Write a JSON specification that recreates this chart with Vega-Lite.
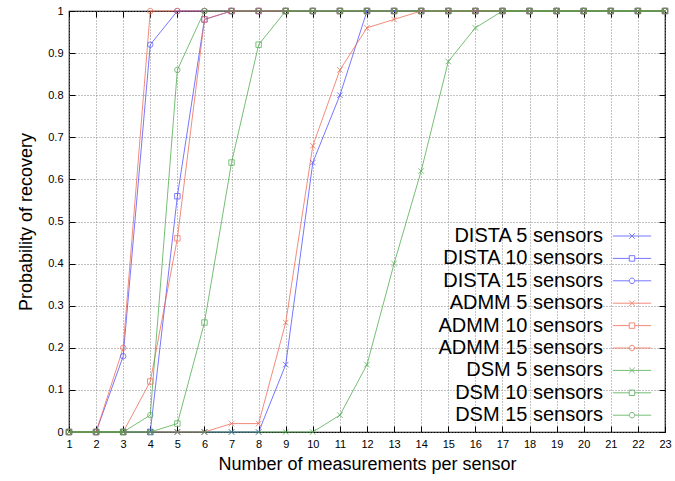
{
  "$schema": "https://vega.github.io/schema/vega-lite/v6.json",
  "width": 596,
  "height": 421,
  "autosize": {"type": "none"},
  "padding": {"left": 69, "top": 11, "right": 10, "bottom": 49},
  "background": "white",
  "config": {
    "font": "Liberation Sans",
    "view": {"stroke": "black", "strokeWidth": 1.2},
    "axis": {"domain": false, "tickColor": "black", "labelColor": "black", "titleColor": "black", "titleFontWeight": "normal", "labelFont": "Liberation Sans", "titleFont": "Liberation Sans"}
  },
  "data": {
    "values": [
      {"x": 1, "DISTA 5 sensors": 0, "DISTA 10 sensors": 0, "DISTA 15 sensors": 0, "ADMM 5 sensors": 0, "ADMM 10 sensors": 0, "ADMM 15 sensors": 0, "DSM 5 sensors": 0, "DSM 10 sensors": 0, "DSM 15 sensors": 0},
      {"x": 2, "DISTA 5 sensors": 0, "DISTA 10 sensors": 0, "DISTA 15 sensors": 0, "ADMM 5 sensors": 0, "ADMM 10 sensors": 0, "ADMM 15 sensors": 0, "DSM 5 sensors": 0, "DSM 10 sensors": 0, "DSM 15 sensors": 0},
      {"x": 3, "DISTA 5 sensors": 0, "DISTA 10 sensors": 0, "DISTA 15 sensors": 0.18, "ADMM 5 sensors": 0, "ADMM 10 sensors": 0, "ADMM 15 sensors": 0.2, "DSM 5 sensors": 0, "DSM 10 sensors": 0, "DSM 15 sensors": 0},
      {"x": 4, "DISTA 5 sensors": 0, "DISTA 10 sensors": 0, "DISTA 15 sensors": 0.92, "ADMM 5 sensors": 0, "ADMM 10 sensors": 0.12, "ADMM 15 sensors": 1, "DSM 5 sensors": 0, "DSM 10 sensors": 0, "DSM 15 sensors": 0.04},
      {"x": 5, "DISTA 5 sensors": 0, "DISTA 10 sensors": 0.56, "DISTA 15 sensors": 1, "ADMM 5 sensors": 0, "ADMM 10 sensors": 0.46, "ADMM 15 sensors": 1, "DSM 5 sensors": 0, "DSM 10 sensors": 0.02, "DSM 15 sensors": 0.86},
      {"x": 6, "DISTA 5 sensors": 0, "DISTA 10 sensors": 0.98, "DISTA 15 sensors": 1, "ADMM 5 sensors": 0, "ADMM 10 sensors": 0.98, "ADMM 15 sensors": 1, "DSM 5 sensors": 0, "DSM 10 sensors": 0.26, "DSM 15 sensors": 1},
      {"x": 7, "DISTA 5 sensors": 0, "DISTA 10 sensors": 1, "DISTA 15 sensors": 1, "ADMM 5 sensors": 0.02, "ADMM 10 sensors": 1, "ADMM 15 sensors": 1, "DSM 5 sensors": 0, "DSM 10 sensors": 0.64, "DSM 15 sensors": 1},
      {"x": 8, "DISTA 5 sensors": 0, "DISTA 10 sensors": 1, "DISTA 15 sensors": 1, "ADMM 5 sensors": 0.02, "ADMM 10 sensors": 1, "ADMM 15 sensors": 1, "DSM 5 sensors": 0, "DSM 10 sensors": 0.92, "DSM 15 sensors": 1},
      {"x": 9, "DISTA 5 sensors": 0.16, "DISTA 10 sensors": 1, "DISTA 15 sensors": 1, "ADMM 5 sensors": 0.26, "ADMM 10 sensors": 1, "ADMM 15 sensors": 1, "DSM 5 sensors": 0, "DSM 10 sensors": 1, "DSM 15 sensors": 1},
      {"x": 10, "DISTA 5 sensors": 0.64, "DISTA 10 sensors": 1, "DISTA 15 sensors": 1, "ADMM 5 sensors": 0.68, "ADMM 10 sensors": 1, "ADMM 15 sensors": 1, "DSM 5 sensors": 0, "DSM 10 sensors": 1, "DSM 15 sensors": 1},
      {"x": 11, "DISTA 5 sensors": 0.8, "DISTA 10 sensors": 1, "DISTA 15 sensors": 1, "ADMM 5 sensors": 0.86, "ADMM 10 sensors": 1, "ADMM 15 sensors": 1, "DSM 5 sensors": 0.04, "DSM 10 sensors": 1, "DSM 15 sensors": 1},
      {"x": 12, "DISTA 5 sensors": 1, "DISTA 10 sensors": 1, "DISTA 15 sensors": 1, "ADMM 5 sensors": 0.96, "ADMM 10 sensors": 1, "ADMM 15 sensors": 1, "DSM 5 sensors": 0.16, "DSM 10 sensors": 1, "DSM 15 sensors": 1},
      {"x": 13, "DISTA 5 sensors": 1, "DISTA 10 sensors": 1, "DISTA 15 sensors": 1, "ADMM 5 sensors": 0.98, "ADMM 10 sensors": 1, "ADMM 15 sensors": 1, "DSM 5 sensors": 0.4, "DSM 10 sensors": 1, "DSM 15 sensors": 1},
      {"x": 14, "DISTA 5 sensors": 1, "DISTA 10 sensors": 1, "DISTA 15 sensors": 1, "ADMM 5 sensors": 1, "ADMM 10 sensors": 1, "ADMM 15 sensors": 1, "DSM 5 sensors": 0.62, "DSM 10 sensors": 1, "DSM 15 sensors": 1},
      {"x": 15, "DISTA 5 sensors": 1, "DISTA 10 sensors": 1, "DISTA 15 sensors": 1, "ADMM 5 sensors": 1, "ADMM 10 sensors": 1, "ADMM 15 sensors": 1, "DSM 5 sensors": 0.88, "DSM 10 sensors": 1, "DSM 15 sensors": 1},
      {"x": 16, "DISTA 5 sensors": 1, "DISTA 10 sensors": 1, "DISTA 15 sensors": 1, "ADMM 5 sensors": 1, "ADMM 10 sensors": 1, "ADMM 15 sensors": 1, "DSM 5 sensors": 0.96, "DSM 10 sensors": 1, "DSM 15 sensors": 1},
      {"x": 17, "DISTA 5 sensors": 1, "DISTA 10 sensors": 1, "DISTA 15 sensors": 1, "ADMM 5 sensors": 1, "ADMM 10 sensors": 1, "ADMM 15 sensors": 1, "DSM 5 sensors": 1, "DSM 10 sensors": 1, "DSM 15 sensors": 1},
      {"x": 18, "DISTA 5 sensors": 1, "DISTA 10 sensors": 1, "DISTA 15 sensors": 1, "ADMM 5 sensors": 1, "ADMM 10 sensors": 1, "ADMM 15 sensors": 1, "DSM 5 sensors": 1, "DSM 10 sensors": 1, "DSM 15 sensors": 1},
      {"x": 19, "DISTA 5 sensors": 1, "DISTA 10 sensors": 1, "DISTA 15 sensors": 1, "ADMM 5 sensors": 1, "ADMM 10 sensors": 1, "ADMM 15 sensors": 1, "DSM 5 sensors": 1, "DSM 10 sensors": 1, "DSM 15 sensors": 1},
      {"x": 20, "DISTA 5 sensors": 1, "DISTA 10 sensors": 1, "DISTA 15 sensors": 1, "ADMM 5 sensors": 1, "ADMM 10 sensors": 1, "ADMM 15 sensors": 1, "DSM 5 sensors": 1, "DSM 10 sensors": 1, "DSM 15 sensors": 1},
      {"x": 21, "DISTA 5 sensors": 1, "DISTA 10 sensors": 1, "DISTA 15 sensors": 1, "ADMM 5 sensors": 1, "ADMM 10 sensors": 1, "ADMM 15 sensors": 1, "DSM 5 sensors": 1, "DSM 10 sensors": 1, "DSM 15 sensors": 1},
      {"x": 22, "DISTA 5 sensors": 1, "DISTA 10 sensors": 1, "DISTA 15 sensors": 1, "ADMM 5 sensors": 1, "ADMM 10 sensors": 1, "ADMM 15 sensors": 1, "DSM 5 sensors": 1, "DSM 10 sensors": 1, "DSM 15 sensors": 1},
      {"x": 23, "DISTA 5 sensors": 1, "DISTA 10 sensors": 1, "DISTA 15 sensors": 1, "ADMM 5 sensors": 1, "ADMM 10 sensors": 1, "ADMM 15 sensors": 1, "DSM 5 sensors": 1, "DSM 10 sensors": 1, "DSM 15 sensors": 1}
    ]
  },
  "transform": [
    {"fold": ["DISTA 5 sensors", "DISTA 10 sensors", "DISTA 15 sensors", "ADMM 5 sensors", "ADMM 10 sensors", "ADMM 15 sensors", "DSM 5 sensors", "DSM 10 sensors", "DSM 15 sensors"], "as": ["series", "p"]}
  ],
  "layer": [
    {
      "mark": {"type": "line", "strokeWidth": 1, "opacity": 0.75, "clip": false},
      "encoding": {
        "x": {"field": "x", "type": "quantitative", "scale": {"domain": [1, 23], "nice": false, "zero": false},
          "axis": {"orient": "bottom", "values": [1,2,3,4,5,6,7,8,9,10,11,12,13,14,15,16,17,18,19,20,21,22,23], "title": "Number of measurements per sensor", "titleFontSize": 18, "titlePadding": 6, "labelFontSize": 11, "labelPadding": 12, "tickSize": -6, "grid": true, "gridDash": [1, 2], "gridColor": "#888888", "gridOpacity": 1, "labelFlush": false}},
        "y": {"field": "p", "type": "quantitative", "scale": {"domain": [0, 1], "nice": false},
          "axis": {"orient": "left", "values": [0,0.1,0.2,0.3,0.4,0.5,0.6,0.7,0.8,0.9,1], "format": "~g", "title": "Probability of recovery", "titleFontSize": 18, "titlePadding": 12, "labelFontSize": 11, "labelPadding": 12, "tickSize": -6, "grid": true, "gridDash": [1, 2], "gridColor": "#888888", "gridOpacity": 1, "labelFlush": false}},
        "color": {"field": "series", "type": "nominal",
          "scale": {"domain": ["DISTA 5 sensors", "DISTA 10 sensors", "DISTA 15 sensors", "ADMM 5 sensors", "ADMM 10 sensors", "ADMM 15 sensors", "DSM 5 sensors", "DSM 10 sensors", "DSM 15 sensors"],
            "range": ["#4a4aff", "#4a4aff", "#4a4aff", "#ee6650", "#ee6650", "#ee6650", "#4aa84a", "#4aa84a", "#4aa84a"]},
          "legend": {"orient": "none", "legendX": 553, "legendY": 215, "title": null, "labelFontSize": 20, "labelLimit": 0, "labelAlign": "right", "labelOffset": -39, "symbolSize": 30, "symbolStrokeWidth": 1, "rowPadding": 2.4}},
        "order": {"field": "x", "type": "quantitative"}
      }
    },
    {
      "transform": [{"filter": "indexof(datum.series, ' 5 ') >= 0"}],
      "mark": {"type": "point", "filled": false, "size": 30, "strokeWidth": 1, "clip": false, "shape": "M-1,-1L1,1M-1,1L1,-1"},
      "encoding": {
        "x": {"field": "x", "type": "quantitative", "axis": {"orient": "top", "values": [1,2,3,4,5,6,7,8,9,10,11,12,13,14,15,16,17,18,19,20,21,22,23], "labels": false, "title": null, "tickSize": -6, "grid": false}},
        "y": {"field": "p", "type": "quantitative", "axis": {"orient": "right", "values": [0,0.1,0.2,0.3,0.4,0.5,0.6,0.7,0.8,0.9,1], "labels": false, "title": null, "tickSize": -6, "grid": false}},
        "color": {"field": "series", "type": "nominal"}
      }
    },
    {
      "transform": [{"filter": "indexof(datum.series, ' 10 ') >= 0"}],
      "mark": {"type": "point", "filled": false, "size": 30, "strokeWidth": 1, "clip": false, "shape": "square"},
      "encoding": {
        "x": {"field": "x", "type": "quantitative", "axis": null},
        "y": {"field": "p", "type": "quantitative", "axis": null},
        "color": {"field": "series", "type": "nominal"}
      }
    },
    {
      "transform": [{"filter": "indexof(datum.series, ' 15 ') >= 0"}],
      "mark": {"type": "point", "filled": false, "size": 30, "strokeWidth": 1, "clip": false, "shape": "circle"},
      "encoding": {
        "x": {"field": "x", "type": "quantitative", "axis": null},
        "y": {"field": "p", "type": "quantitative", "axis": null},
        "color": {"field": "series", "type": "nominal"}
      }
    },
    {
      "transform": [{"filter": "datum.x > 100"}],
      "mark": {"type": "point", "filled": false, "size": 30, "strokeWidth": 1, "clip": false},
      "encoding": {
        "x": {"field": "x", "type": "quantitative", "axis": null},
        "y": {"field": "p", "type": "quantitative", "axis": null},
        "color": {"field": "series", "type": "nominal"},
        "shape": {"field": "series", "type": "nominal",
          "scale": {"domain": ["DISTA 5 sensors", "DISTA 10 sensors", "DISTA 15 sensors", "ADMM 5 sensors", "ADMM 10 sensors", "ADMM 15 sensors", "DSM 5 sensors", "DSM 10 sensors", "DSM 15 sensors"],
            "range": ["M-7,0L7,0M-1,-1L1,1M-1,1L1,-1", "M-7,0L-1,0M1,0L7,0M-1,-1L1,-1L1,1L-1,1Z", "M-7,0L-1,0M1,0L7,0M1,0A1,1,0,1,1,-1,0A1,1,0,1,1,1,0", "M-7,0L7,0M-1,-1L1,1M-1,1L1,-1", "M-7,0L-1,0M1,0L7,0M-1,-1L1,-1L1,1L-1,1Z", "M-7,0L-1,0M1,0L7,0M1,0A1,1,0,1,1,-1,0A1,1,0,1,1,1,0", "M-7,0L7,0M-1,-1L1,1M-1,1L1,-1", "M-7,0L-1,0M1,0L7,0M-1,-1L1,-1L1,1L-1,1Z", "M-7,0L-1,0M1,0L7,0M1,0A1,1,0,1,1,-1,0A1,1,0,1,1,1,0"]},
          "legend": {"orient": "none", "legendX": 553, "legendY": 215, "title": null, "labelFontSize": 20, "labelLimit": 0, "labelAlign": "right", "labelOffset": -39, "symbolSize": 30, "symbolStrokeWidth": 1, "rowPadding": 2.4}}
      }
    }
  ],
  "resolve": {"axis": {"x": "independent", "y": "independent"}}
}
